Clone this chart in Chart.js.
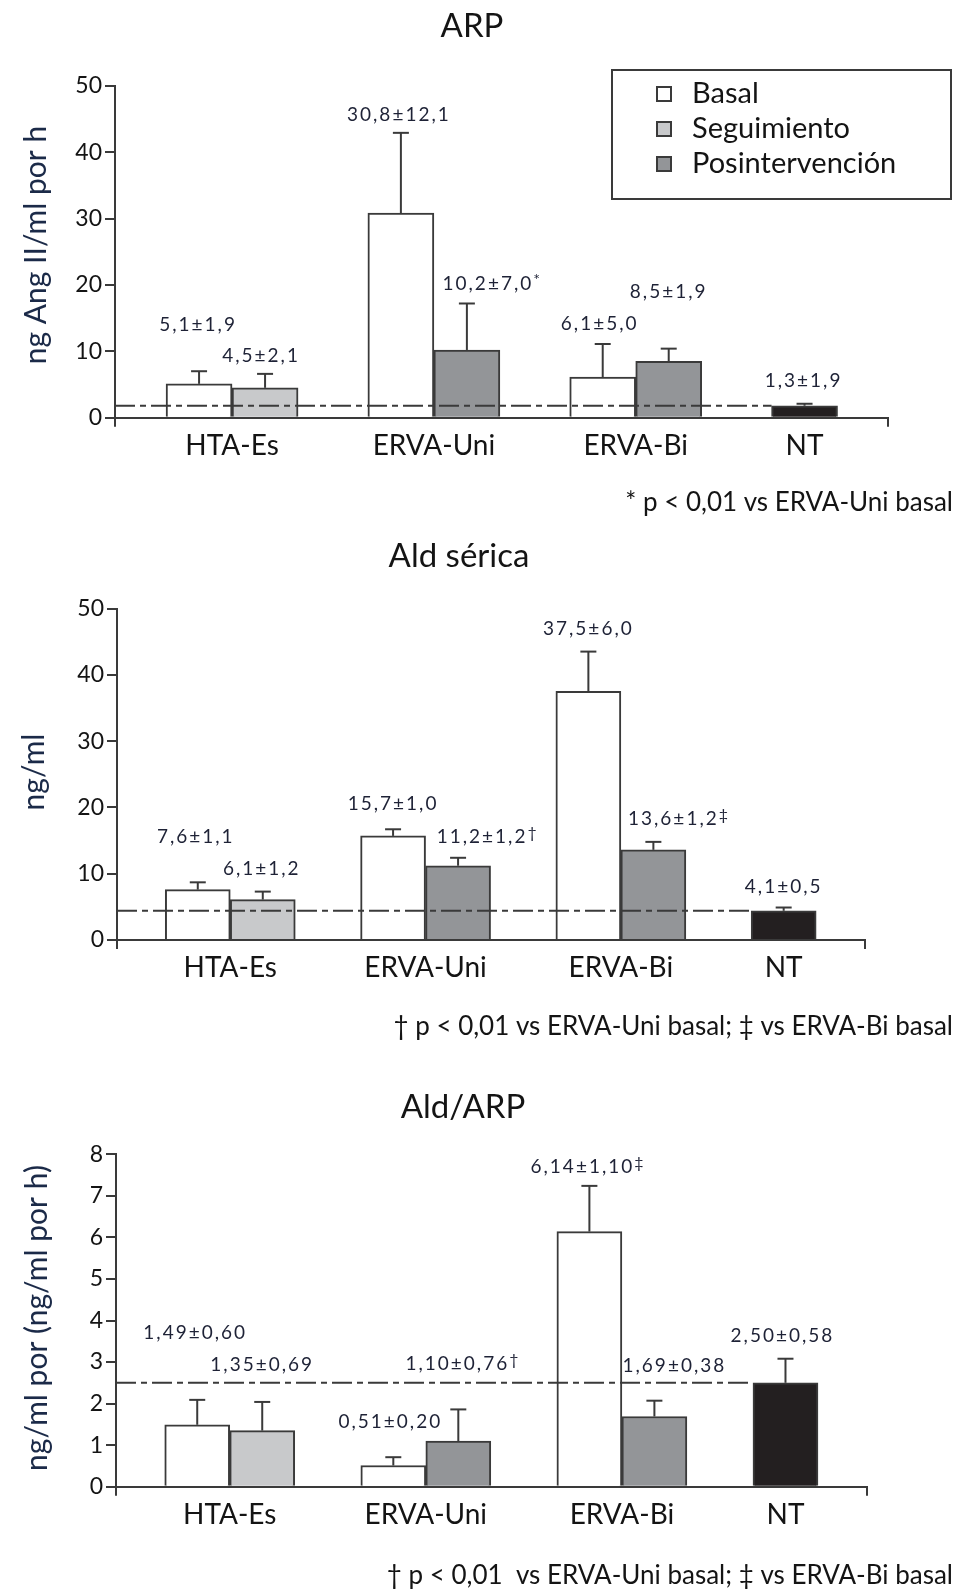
<!DOCTYPE html>
<html lang="es">
<head>
<meta charset="UTF-8">
<title>ARP, Ald sérica y Ald/ARP</title>
<script src="https://cdn.jsdelivr.net/npm/chart.js"></script>
<style>
  html, body { margin: 0; padding: 0; background: #fff; }
  #page { position: relative; width: 957px; height: 1589px; }
  .panel { position: absolute; left: 0; width: 957px; }
</style>
</head>
<body>
<div id="page">
  <div class="panel" style="top:0"><canvas id="arpChart" width="957" height="530"></canvas></div>
  <div class="panel" style="top:530px"><canvas id="aldChart" width="957" height="520"></canvas></div>
  <div class="panel" style="top:1050px"><canvas id="ratioChart" width="957" height="539"></canvas></div>
</div>
<script>
// ---- data ----
const groups = ['HTA-Es', 'ERVA-Uni', 'ERVA-Bi', 'NT'];
const seriesNames = ['Basal', 'Seguimiento', 'Posintervención'];

// ARP (ng Ang II/ml por h)
const arpBasal = [5.1, 30.8, 6.1, 1.8];
const arpBasalErr = [1.9, 12.1, 5.0, 0.3];
const arpPost = [4.5, 10.2, 8.5];
const arpPostErr = [2.1, 7.0, 1.9];
const arpBasalText = ['5,1±1,9', '30,8±12,1', '6,1±5,0', '1,3±1,9'];
const arpPostText = ['4,5±2,1', '10,2±7,0*', '8,5±1,9'];
const arpTicks = [0, 10, 20, 30, 40, 50];

// Ald sérica (ng/ml)
const aldBasal = [7.6, 15.7, 37.5, 4.4];
const aldBasalErr = [1.1, 1.0, 6.0, 0.5];
const aldPost = [6.1, 11.2, 13.6];
const aldPostErr = [1.2, 1.2, 1.2];
const aldBasalText = ['7,6±1,1', '15,7±1,0', '37,5±6,0', '4,1±0,5'];
const aldPostText = ['6,1±1,2', '11,2±1,2†', '13,6±1,2‡'];
const aldTicks = [0, 10, 20, 30, 40, 50];

// Ald/ARP
const ratioBasal = [1.49, 0.51, 6.14, 2.50];
const ratioBasalErr = [0.60, 0.20, 1.10, 0.58];
const ratioPost = [1.35, 1.10, 1.69];
const ratioPostErr = [0.69, 0.76, 0.38];
const ratioBasalText = ['1,49±0,60', '0,51±0,20', '6,14±1,10‡', '2,50±0,58'];
const ratioPostText = ['1,35±0,69', '1,10±0,76†', '1,69±0,38'];
const ratioTicks = [0, 1, 2, 3, 4, 5, 6, 7, 8];

// ---- styles ----
const ink = '#3a3a3a';
const textInk = '#141414';
const valueInk = '#1e2236';
const titleInk = '#1b2a48';
const fontFamily = 'Lato, "Open Sans", sans-serif';
const basalColors = ['#ffffff', '#ffffff', '#ffffff', '#231f20'];
const postColors = ['#c8c9cb', '#939598', '#939598'];
const legendColors = ['#ffffff', '#c8c9cb', '#939598'];

function line(ctx, x1, y1, x2, y2) {
  ctx.beginPath(); ctx.moveTo(x1, y1); ctx.lineTo(x2, y2); ctx.stroke();
}

const decor = {
  id: 'decor',
  afterDatasetsDraw(chart, args, o) {
    const ctx = chart.ctx, ys = chart.scales.y, area = chart.chartArea;
    ctx.save();
    ctx.strokeStyle = ink;
    ctx.lineWidth = 2;

    // dashed reference line at the NT level
    const nt = chart.getDatasetMeta(0).data[3];
    ctx.setLineDash([20, 5, 6, 5]);
    line(ctx, area.left, nt.y, nt.x - nt.width / 2, nt.y);
    ctx.setLineDash([]);

    // error bars and value labels
    [0, 1].forEach(d => {
      const meta = chart.getDatasetMeta(d);
      const ds = chart.data.datasets[d];
      meta.data.forEach((bar, i) => {
        const top = ys.getPixelForValue(ds.data[i].y + o.errors[d][i]);
        line(ctx, bar.x, bar.y, bar.x, top);
        line(ctx, bar.x - 8, top, bar.x + 8, top);

        const txt = o.texts[d][i];
        const nudge = o.nudges[d][i];
        let main = txt, mark = '';
        if ('*†‡'.includes(txt.slice(-1))) { main = txt.slice(0, -1); mark = txt.slice(-1); }
        const cx = bar.x + nudge[0], cy = top - nudge[1];
        ctx.font = '19px ' + fontFamily;
        ctx.letterSpacing = '2px';
        ctx.fillStyle = valueInk;
        ctx.textAlign = 'center';
        ctx.textBaseline = 'middle';
        ctx.fillText(main, cx, cy);
        if (mark) {
          const w = ctx.measureText(main).width;
          ctx.letterSpacing = '0px';
          ctx.font = '16px ' + fontFamily;
          ctx.textAlign = 'left';
          ctx.fillText(mark, cx + w / 2, cy - 4);
        }
        ctx.letterSpacing = '0px';
      });
    });
    ctx.restore();
  },
  afterDraw(chart, args, o) {
    const ctx = chart.ctx, xs = chart.scales.x, area = chart.chartArea;
    ctx.save();
    ctx.strokeStyle = ink;
    ctx.lineWidth = 2;
    // axis stubs below the baseline
    line(ctx, area.left, area.bottom, area.left, area.bottom + 9);
    line(ctx, area.right, area.bottom, area.right, area.bottom + 9);

    // category labels
    ctx.fillStyle = textInk;
    ctx.textAlign = 'center';
    ctx.textBaseline = 'middle';
    ctx.font = '28px ' + fontFamily;
    const post = chart.getDatasetMeta(1).data;
    const basal = chart.getDatasetMeta(0).data;
    groups.forEach((g, i) => {
      const cx = post[i] ? xs.getPixelForValue(i) : basal[i].x;
      ctx.fillText(g, cx, area.bottom + 28);
    });

    // panel title
    ctx.font = '33px ' + fontFamily;
    ctx.fillText(o.title, o.titleX, o.titleY);

    // footnote
    ctx.font = '26px ' + fontFamily;
    ctx.textAlign = 'right';
    ctx.fillText(o.footnote, 953, o.footY);

    // y axis title
    ctx.save();
    ctx.translate(o.yTitleX, o.yTitleY);
    ctx.rotate(-Math.PI / 2);
    ctx.textAlign = 'center';
    ctx.fillStyle = titleInk;
    ctx.font = '30px ' + fontFamily;
    ctx.fillText(o.yTitle, 0, 0);
    ctx.restore();

    // legend box
    if (o.legend) {
      ctx.strokeStyle = ink;
      ctx.lineWidth = 2;
      ctx.strokeRect(612, 70, 339, 129);
      ctx.font = '29px ' + fontFamily;
      ctx.textAlign = 'left';
      seriesNames.forEach((name, k) => {
        const cy = 94 + k * 35;
        ctx.fillStyle = legendColors[k];
        ctx.fillRect(657, cy - 7, 14, 14);
        ctx.strokeRect(657, cy - 7, 14, 14);
        ctx.fillStyle = textInk;
        ctx.fillText(name, 692, cy);
      });
    }
    ctx.restore();
  }
};

function makeChart(id, p) {
  const basalData = groups.map((g, i) => ({ x: i, y: p.basal[i] }));
  const postData = p.post.map((v, i) => ({ x: i, y: v }));
  return new Chart(document.getElementById(id), {
    type: 'bar',
    data: {
      datasets: [
        { label: seriesNames[0], data: basalData, backgroundColor: basalColors,
          borderColor: ink, borderWidth: 2, barThickness: p.thickness },
        { label: seriesNames[2], data: postData, backgroundColor: postColors,
          borderColor: ink, borderWidth: 2, barThickness: p.thickness }
      ]
    },
    options: {
      responsive: false,
      animation: false,
      layout: { padding: { top: p.chartTop - p.top, left: 0, right: 957 - p.right, bottom: 0 } },
      scales: {
        x: {
          type: 'linear', min: -0.58, max: 3.25, offset: false,
          grid: { display: false },
          ticks: { display: false },
          border: { display: true, color: ink, width: 2 },
          afterFit: s => { s.height = p.height - (p.chartBottom - p.top); }
        },
        y: {
          min: 0, max: p.ticks[p.ticks.length - 1],
          afterBuildTicks: s => { s.ticks = p.ticks.map(v => ({ value: v })); },
          grid: { drawOnChartArea: false, drawTicks: true, tickLength: 10, color: ink, lineWidth: 2 },
          border: { display: true, color: ink, width: 2 },
          ticks: { color: textInk, padding: 3, font: { family: fontFamily, size: 23 } },
          afterFit: s => { s.width = p.left; }
        }
      },
      plugins: {
        legend: { display: false },
        tooltip: { enabled: false },
        decor: {
          title: p.title, titleX: p.titleX, titleY: p.titleY - p.top,
          yTitle: p.yTitle, yTitleX: p.yTitleX, yTitleY: p.yTitleY - p.top,
          footnote: p.footnote, footY: p.footY - p.top,
          errors: [p.basalErr, p.postErr],
          texts: [p.basalText, p.postText],
          nudges: p.nudges,
          legend: p.legend
        }
      }
    },
    plugins: [decor]
  });
}

makeChart('arpChart', {
  top: 0, height: 530, chartTop: 85.7, chartBottom: 417.7, left: 115, right: 888, thickness: 66,
  basal: arpBasal, basalErr: arpBasalErr, post: arpPost, postErr: arpPostErr,
  basalText: arpBasalText, postText: arpPostText, ticks: arpTicks,
  nudges: [[[-1, 46], [-2, 18], [-3, 20], [-1, 23]], [[-4, 18], [21, 20], [0, 57]]],
  title: 'ARP', titleX: 472, titleY: 26,
  yTitle: 'ng Ang II/ml por h', yTitleX: 36, yTitleY: 245,
  footnote: '* p < 0,01 vs ERVA-Uni basal', footY: 503, legend: true
});

makeChart('aldChart', {
  top: 530, height: 520, chartTop: 608.5, chartBottom: 940, left: 117, right: 865, thickness: 65,
  basal: aldBasal, basalErr: aldBasalErr, post: aldPost, postErr: aldPostErr,
  basalText: aldBasalText, postText: aldPostText, ticks: aldTicks,
  nudges: [[[-2, 45], [0, 25], [0, 23], [0, 21]], [[-1, 23], [24, 21], [20, 23]]],
  title: 'Ald sérica', titleX: 459, titleY: 556,
  yTitle: 'ng/ml', yTitleX: 34, yTitleY: 772,
  footnote: '† p < 0,01 vs ERVA-Uni basal; ‡ vs ERVA-Bi basal', footY: 1027, legend: false
});

makeChart('ratioChart', {
  top: 1050, height: 539, chartTop: 1154.3, chartBottom: 1486.7, left: 116, right: 867, thickness: 65,
  basal: ratioBasal, basalErr: ratioBasalErr, post: ratioPost, postErr: ratioPostErr,
  basalText: ratioBasalText, postText: ratioPostText, ticks: ratioTicks,
  nudges: [[[-2, 67], [-3, 35], [-7, 19], [-3, 23]], [[0, 37], [-1, 46], [20, 35]]],
  title: 'Ald/ARP', titleX: 463, titleY: 1107,
  yTitle: 'ng/ml por (ng/ml por h)', yTitleX: 37, yTitleY: 1318,
  footnote: '† p < 0,01  vs ERVA-Uni basal; ‡ vs ERVA-Bi basal', footY: 1576, legend: false
});
</script>
</body>
</html>
